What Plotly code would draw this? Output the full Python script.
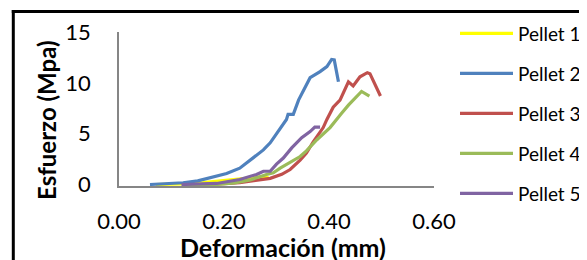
import plotly.graph_objects as go

# ---- data ----
names = ["Pellet 1", "Pellet 2", "Pellet 3", "Pellet 4", "Pellet 5"]
colors = ["#FFFF00", "#4F81BD", "#C0504D", "#9BBB59", "#8064A2"]

p1_x = [0.07, 0.12, 0.16, 0.20, 0.23, 0.25, 0.27, 0.285]
p1_y = [0.0, 0.05, 0.18, 0.38, 0.55, 0.7, 0.75, 0.65]

p2_x = [0.059, 0.10, 0.122, 0.15, 0.167, 0.19, 0.205, 0.23, 0.243, 0.256, 0.275, 0.288,
        0.300, 0.319, 0.322, 0.332, 0.342, 0.364, 0.383, 0.396, 0.405, 0.41, 0.418]
p2_y = [0.0, 0.08, 0.17, 0.35, 0.56, 0.85, 1.08, 1.6, 2.1, 2.6, 3.4, 4.1,
        5.0, 6.4, 6.9, 6.9, 8.3, 10.5, 11.1, 11.6, 12.3, 12.25, 10.1]

p3_x = [0.122, 0.154, 0.20, 0.23, 0.26, 0.288, 0.31, 0.326, 0.345, 0.357, 0.370, 0.389,
        0.396, 0.408, 0.421, 0.437, 0.446, 0.459, 0.473, 0.478, 0.498]
p3_y = [0.0, 0.0, 0.08, 0.17, 0.4, 0.6, 1.0, 1.47, 2.4, 3.1, 4.2, 5.6,
        6.4, 7.6, 8.3, 10.1, 9.7, 10.6, 11.0, 10.9, 8.7]

p4_x = [0.13, 0.186, 0.22, 0.243, 0.25, 0.281, 0.294, 0.307, 0.332, 0.345, 0.357, 0.370,
        0.377, 0.402, 0.408, 0.424, 0.437, 0.462, 0.477]
p4_y = [0.0, 0.0, 0.15, 0.42, 0.45, 0.98, 1.15, 1.6, 2.3, 2.75, 3.3, 4.0,
        4.4, 5.6, 6.0, 7.0, 7.8, 9.15, 8.7]

p5_x = [0.119, 0.186, 0.23, 0.262, 0.275, 0.281, 0.288, 0.30, 0.313, 0.329, 0.348, 0.364,
        0.373, 0.383]
p5_y = [0.0, 0.1, 0.49, 0.98, 1.3, 1.3, 1.3, 2.0, 2.6, 3.6, 4.6, 5.2,
        5.65, 5.65]

xs = [p1_x, p2_x, p3_x, p4_x, p5_x]
ys = [p1_y, p2_y, p3_y, p4_y, p5_y]

x_ticks = [0.0, 0.2, 0.4, 0.6]
x_tick_text = ["0.00", "0.20", "0.40", "0.60"]
y_ticks = [0, 5, 10, 15]

# ---- geometry: window pixels (page body adds an 8px offset) ----
OFF = 8
W, H = 587 - OFF, 260 - OFF          # figure size
ML, MT = 15 - OFF, 13 - OFF          # paper starts just inside the black frame
PAPER_W, PAPER_H = W - ML, H - MT


def px_x(px):
    return (px - OFF - ML) / PAPER_W


def px_y(py):
    return (H - (py - OFF)) / PAPER_H


# plot area in window pixels: x 119..434, y 32..186
X_DOM = [px_x(119), px_x(434)]
Y_DOM = [px_y(186), px_y(32)]

FONT = "Lato, Open Sans, sans-serif"

fig = go.Figure()
for n, c, x, y in zip(names, colors, xs, ys):
    fig.add_trace(go.Scatter(x=x, y=y, mode="lines", name=n,
                             line=dict(color=c, width=3.2), showlegend=False))

shapes = []
annotations = []

# black outer frame (continues past the right and bottom edges of the window)
shapes.append(dict(type="line", xref="paper", yref="paper",
                   x0=px_x(11.8), x1=px_x(600), y0=px_y(11.5), y1=px_y(11.5),
                   line=dict(color="black", width=3), layer="above"))
shapes.append(dict(type="line", xref="paper", yref="paper",
                   x0=px_x(13.3), x1=px_x(13.3), y0=px_y(10), y1=px_y(270),
                   line=dict(color="black", width=3), layer="above"))

# legend drawn manually
leg_y = [33.3, 73.3, 113.3, 153.3, 193.3]
for n, c, ly in zip(names, colors, leg_y):
    shapes.append(dict(type="line", xref="paper", yref="paper",
                       x0=px_x(460), x1=px_x(513), y0=px_y(ly), y1=px_y(ly),
                       line=dict(color=c, width=3.2)))
    annotations.append(dict(x=px_x(516), y=px_y(ly), xref="paper", yref="paper",
                            text=n, showarrow=False, xanchor="left", yanchor="middle",
                            bgcolor="rgba(0,0,0,0)",
                            font=dict(family=FONT, size=19, color="black")))

annotations.append(dict(x=px_x(283), y=px_y(247), xref="paper", yref="paper",
                        text="<b>Deformación (mm)</b>", showarrow=False,
                        xanchor="center", yanchor="middle", bgcolor="rgba(0,0,0,0)",
                        font=dict(family=FONT, size=25, color="black")))
annotations.append(dict(x=px_x(46), y=px_y(120), xref="paper", yref="paper",
                        text="<b>Esfuerzo (Mpa)</b>", showarrow=False, textangle=-90,
                        xanchor="center", yanchor="middle", bgcolor="rgba(0,0,0,0)",
                        font=dict(family=FONT, size=24, color="black")))

fig.update_layout(
    width=W, height=H,
    margin=dict(l=ML, r=0, t=MT, b=0, pad=0, autoexpand=False),
    paper_bgcolor="white", plot_bgcolor="rgba(0,0,0,0)",
    showlegend=False,
    shapes=shapes, annotations=annotations,
    xaxis=dict(domain=X_DOM, range=[0, 0.6], tickvals=x_ticks, ticktext=x_tick_text,
               anchor="y",
               showgrid=False, zeroline=False, showline=True, automargin=False,
               linecolor="#868686", linewidth=1.5, ticks="",
               ticklabelstandoff=15,
               tickfont=dict(family=FONT, size=22, color="black")),
    yaxis=dict(domain=Y_DOM, range=[-0.15, 15], tickvals=y_ticks,
               anchor="x",
               showgrid=False, zeroline=False, showline=True, automargin=False,
               linecolor="#868686", linewidth=1.5, ticks="",
               ticklabelstandoff=22,
               tickfont=dict(family=FONT, size=22, color="black")),
)

fig.write_html("out.html")
